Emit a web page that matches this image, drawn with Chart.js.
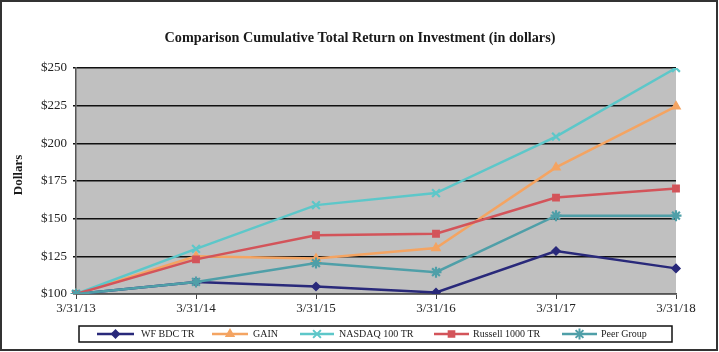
<!DOCTYPE html>
<html>
<head>
<meta charset="utf-8">
<script src="https://cdn.jsdelivr.net/npm/chart.js@4.4.0/dist/chart.umd.min.js"></script>
<style>
html,body{margin:0;padding:0;background:#fff;}
#wrap{width:719px;height:352px;position:relative;}
</style>
</head>
<body>
<div id="wrap"><canvas id="c" width="719" height="352"></canvas></div>
<script>
const categories = ['3/31/13','3/31/14','3/31/15','3/31/16','3/31/17','3/31/18'];
const seriesNames = ['WF BDC TR','GAIN','NASDAQ 100 TR','Russell 1000 TR','Peer Group'];
const wfBdc   = [100, 108, 105, 101, 128.5, 117];
const gain    = [100, 125, 123.5, 130.5, 184, 224.5];
const nasdaq  = [100, 130, 159, 167, 204.5, 250];
const russell = [100, 123, 139, 140, 164, 170];
const peer    = [100, 108, 120.5, 114.5, 152, 152];
const yTicks  = [100, 125, 150, 175, 200, 225, 250];
const chartTitle = 'Comparison Cumulative Total Return on Investment (in dollars)';
const yAxisTitle = 'Dollars';

const colors = ['#29297a', '#f4a462', '#5dc7c9', '#d3545a', '#4f9fa8'];
const styles = ['rectRot', 'triangle', 'crossRot', 'rect', 'star'];
const radii  = [3.5, 4, 5.5, 4, 5.5];
const values = [wfBdc, gain, nasdaq, russell, peer];
const SERIF = '"Liberation Serif", "Times New Roman", serif';

const datasets = values.map((v, i) => ({
  label: seriesNames[i],
  data: v,
  borderColor: colors[i],
  backgroundColor: colors[i],
  pointStyle: styles[i],
  pointRadius: radii[i],
  pointBorderWidth: 2.2,
  pointHoverRadius: radii[i],
  borderWidth: 2.5,
  tension: 0,
  order: 5 - i
}));

const framePlugin = {
  id: 'frame',
  beforeDraw(chart) {
    const {ctx, chartArea: a} = chart;
    ctx.save();
    ctx.fillStyle = '#c0c0c0';
    ctx.fillRect(a.left, a.top, a.right - a.left, a.bottom - a.top);
    ctx.restore();
  },
  afterDraw(chart) {
    const ctx = chart.ctx;
    ctx.save();
    // outer frame
    ctx.strokeStyle = '#333';
    ctx.lineWidth = 2;
    ctx.strokeRect(1, 1, 716, 349);
    // title
    ctx.fillStyle = '#1a1a1a';
    ctx.textAlign = 'center';
    ctx.textBaseline = 'middle';
    ctx.font = 'bold 14.2px ' + SERIF;
    ctx.fillText(chartTitle, 360, 38);
    // y axis title
    ctx.save();
    ctx.translate(18.5, 175);
    ctx.rotate(-Math.PI / 2);
    ctx.font = 'bold 13px ' + SERIF;
    ctx.fillText(yAxisTitle, 0, 0);
    ctx.restore();
    // legend box
    ctx.textAlign = 'left';
    ctx.strokeStyle = '#111';
    ctx.lineWidth = 1.5;
    ctx.strokeRect(79, 326, 593, 16);
    const items = [
      {x1: 97, x2: 134, tx: 141},
      {x1: 212, x2: 248, tx: 253},
      {x1: 300, x2: 334, tx: 339},
      {x1: 434, x2: 469, tx: 473},
      {x1: 562, x2: 597, tx: 601}
    ];
    const y = 334;
    ctx.font = '10px ' + SERIF;
    items.forEach((it, i) => {
      ctx.strokeStyle = colors[i];
      ctx.fillStyle = colors[i];
      ctx.lineWidth = 2.5;
      ctx.beginPath();
      ctx.moveTo(it.x1, y);
      ctx.lineTo(it.x2, y);
      ctx.stroke();
      ctx.lineWidth = 2;
      Chart.helpers.drawPoint(ctx, {pointStyle: styles[i], radius: radii[i], borderWidth: 2, rotation: 0}, (it.x1 + it.x2) / 2, y);
      ctx.fillStyle = '#222';
      ctx.fillText(seriesNames[i], it.tx, y + 0.5);
    });
    ctx.restore();
  }
};

new Chart(document.getElementById('c'), {
  type: 'line',
  data: { labels: categories, datasets },
  options: {
    responsive: false,
    animation: false,
    events: [],
    layout: { padding: { top: 68, left: 0, right: 43, bottom: 38 } },
    plugins: {
      legend: { display: false },
      tooltip: { enabled: false },
      title: { display: false }
    },
    scales: {
      x: {
        type: 'category',
        offset: false,
        afterFit(s) { s.height = 20; },
        grid: { drawOnChartArea: false, drawTicks: true, tickLength: 5, color: '#444', lineWidth: 1 },
        border: { display: true, color: '#555', width: 1.5 },
        ticks: { color: '#222', font: { family: SERIF, size: 13 }, padding: 2, maxRotation: 0, autoSkip: false }
      },
      y: {
        min: 100, max: 250,
        afterBuildTicks(s) { s.ticks = yTicks.map(v => ({ value: v })); },
        afterFit(s) { s.width = 76; },
        grid: { drawOnChartArea: true, drawTicks: true, tickLength: 3, color: '#111', lineWidth: 1.5 },
        border: { display: true, color: '#555', width: 1.5 },
        ticks: { color: '#222', font: { family: SERIF, size: 13 }, padding: 6, callback: v => '$' + v },
        title: { display: false }
      }
    }
  },
  plugins: [framePlugin]
});
</script>
</body>
</html>
